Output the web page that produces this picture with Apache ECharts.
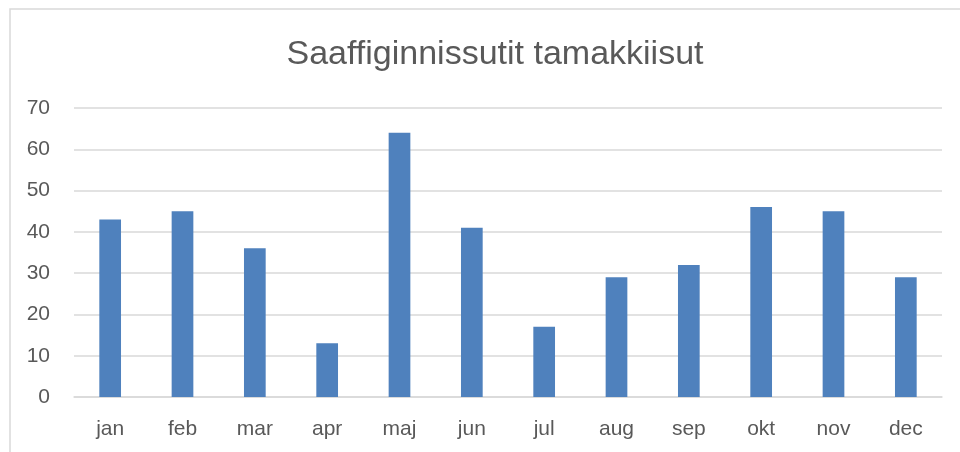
<!DOCTYPE html>
<html>
<head>
<meta charset="utf-8">
<script src="https://cdn.jsdelivr.net/npm/echarts@6/dist/echarts.min.js"></script>
<style>
  html, body { margin: 0; padding: 0; background: #fff; }
  #chart { width: 960px; height: 452px; }
</style>
</head>
<body>
<div id="chart"></div>
<script>
  // kategorier og værdier
  var months = ['jan', 'feb', 'mar', 'apr', 'maj', 'jun', 'jul', 'aug', 'sep', 'okt', 'nov', 'dec'];
  var values = [43, 45, 36, 13, 64, 41, 17, 29, 32, 46, 45, 29];
  var chartTitle = 'Saaffiginnissutit tamakkiisut';

  var myChart = echarts.init(document.getElementById('chart'));
  var font = '"Liberation Sans", "Open Sans", sans-serif';

  myChart.setOption({
    animation: false,
    title: {
      text: chartTitle,
      left: 490,
      top: 33,
      textAlign: 'center',
      textStyle: { color: '#595959', fontSize: 34, fontWeight: 'normal', fontFamily: font }
    },
    graphic: [{
      type: 'rect',
      shape: { x: 10, y: 9, width: 980, height: 480 },
      style: { fill: null, stroke: '#D9D9D9', lineWidth: 1.5 },
      silent: true
    }],
    grid: { left: 74, right: 18, top: 108, bottom: 55 },
    xAxis: {
      type: 'category',
      data: months,
      axisLine: { show: true, lineStyle: { color: '#D9D9D9', width: 1.5 } },
      axisTick: { show: false },
      axisLabel: { color: '#595959', fontSize: 21, fontFamily: font, margin: 22 }
    },
    yAxis: {
      type: 'value',
      min: 0,
      max: 70,
      interval: 10,
      axisLine: { show: false },
      axisTick: { show: false },
      splitLine: { lineStyle: { color: '#D9D9D9', width: 1.5 } },
      axisLabel: { color: '#595959', fontSize: 21, fontFamily: font, margin: 24 }
    },
    series: [{
      type: 'bar',
      data: values,
      barWidth: '30%',
      itemStyle: { color: '#4F81BD' }
    }]
  });
</script>
</body>
</html>
